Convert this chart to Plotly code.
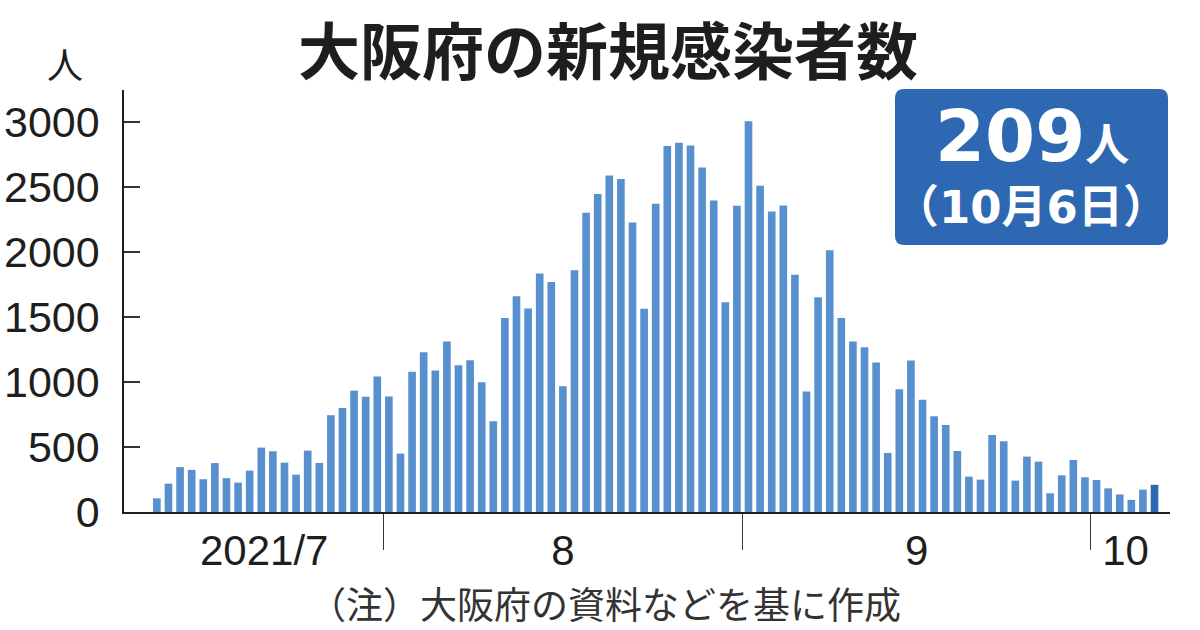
import pandas as pd
import plotly.graph_objects as go

# ---- data ----
start_date = "2021-07-12"
cases = [
    105, 218, 345, 324, 252, 376, 260, 226, 318, 495,
    467, 379, 287, 472, 377, 744, 800, 933, 885, 1042,
    888, 449, 1079, 1228, 1087, 1310, 1128, 1167, 997, 697,
    1492, 1659, 1564, 1833, 1769, 967, 1859, 2300, 2444, 2587,
    2559, 2226, 1562, 2369, 2813, 2838, 2818, 2649, 2395, 1613,
    2354, 3004, 2508, 2310, 2356, 1823, 926, 1651, 2013, 1492,
    1310, 1267, 1149, 454, 944, 1164, 862, 736, 669, 469,
    272, 249, 592, 544, 241, 426, 387, 144, 282, 400,
    267, 246, 182, 135, 93, 172, 209,
]
dates = pd.date_range(start_date, periods=len(cases), freq="D")

month_boundaries = ["2021-07-31 12:00", "2021-08-31 12:00", "2021-09-30 12:00"]
month_label_pos = ["2021-07-21 06:00", "2021-08-16 00:00", "2021-09-15 12:00", "2021-10-03 12:00"]
month_labels = ["2021/7", "8", "9", "10"]
y_ticks = [0, 500, 1000, 1500, 2000, 2500, 3000]

title_text = "大阪府の新規感染者数"
latest_value_text = "209"
latest_date_text = "（10月6日）"
unit_text = "人"
note_text = "（注）大阪府の資料などを基に作成"

# ---- style ----
BAR = "#5890cf"
BAR_LAST = "#2c67b1"
BOX = "#2e68b2"
INK = "#1e1e1e"
NUM = "Liberation Sans, Arial, sans-serif"
CJK = "Noto Sans CJK JP, sans-serif"
BOXFONT = "DejaVu Sans, Noto Sans CJK JP, sans-serif"

PLOT_L, PLOT_T, PLOT_W, PLOT_H = 124, 90, 1046, 422


def px(xp):
    return (xp - PLOT_L) / PLOT_W


def py(yp):
    return (PLOT_T + PLOT_H - yp) / PLOT_H


colors = [BAR] * (len(cases) - 1) + [BAR_LAST]

x_range = [dates[0] - pd.Timedelta(hours=68), dates[-1] + pd.Timedelta(hours=32)]

fig = go.Figure()
fig.add_trace(go.Bar(x=dates, y=cases, marker=dict(color=colors, line=dict(width=0)),
                     hoverinfo="x+y", showlegend=False))
# invisible helper trace so the label axis is drawn
fig.add_trace(go.Scatter(x=dates, y=cases, mode="none", xaxis="x2", hoverinfo="skip",
                         showlegend=False))

fig.update_layout(
    width=1200, height=630,
    margin=dict(l=PLOT_L, r=1200 - PLOT_L - PLOT_W, t=PLOT_T, b=630 - PLOT_T - PLOT_H,
                autoexpand=False),
    paper_bgcolor="white", plot_bgcolor="white",
    bargap=0.34,
    xaxis=dict(type="date", range=x_range, showgrid=False, zeroline=False, automargin=False,
               showline=True, linecolor=INK, linewidth=1.5,
               tickmode="array", tickvals=month_boundaries, ticks="outside",
               ticklen=36, tickwidth=1.3, tickcolor="#333", showticklabels=False),
    xaxis2=dict(type="date", overlaying="x", anchor="y", side="bottom", range=x_range,
                showgrid=False, zeroline=False, showline=False, automargin=False,
                tickmode="array", tickvals=month_label_pos, ticktext=month_labels,
                ticks="", ticklabelstandoff=10,
                tickfont=dict(family=NUM, size=42, color=INK)),
    yaxis=dict(range=[0, 3244], showgrid=False, zeroline=False, automargin=False,
               showline=True, linecolor=INK, linewidth=1.5,
               tickmode="array", tickvals=y_ticks, ticks="inside", ticklen=16,
               tickwidth=1.5, tickcolor="#333", ticklabelstandoff=14,
               tickfont=dict(family=NUM, size=43, color=INK)),
)

# title
fig.add_annotation(xref="paper", yref="paper", x=px(608), y=py(1),
                   xanchor="center", yanchor="top", showarrow=False,
                   text=f"<b>{title_text}</b>", font=dict(family=CJK, size=62, color=INK))

# value box (rounded rectangle)
x0, x1 = px(895), px(1168)
y1, y0 = py(89), py(245)
rx, ry = 9 / PLOT_W, 9 / PLOT_H
path = (f"M {x0+rx},{y1} L {x1-rx},{y1} Q {x1},{y1} {x1},{y1-ry} "
        f"L {x1},{y0+ry} Q {x1},{y0} {x1-rx},{y0} L {x0+rx},{y0} "
        f"Q {x0},{y0} {x0},{y0+ry} L {x0},{y1-ry} Q {x0},{y1} {x0+rx},{y1} Z")
fig.add_shape(type="path", path=path, xref="paper", yref="paper",
              fillcolor=BOX, line=dict(width=0), layer="above")

fig.add_annotation(xref="paper", yref="paper", x=px(1032), y=py(136),
                   xanchor="center", yanchor="middle", showarrow=False,
                   text=f"<b>{latest_value_text}<span style='font-size:44px'>{unit_text}</span></b>",
                   font=dict(family=BOXFONT, size=72, color="white"))
fig.add_annotation(xref="paper", yref="paper", x=px(1031), y=py(207),
                   xanchor="center", yanchor="middle", showarrow=False,
                   text=f"<b>{latest_date_text}</b>",
                   font=dict(family=BOXFONT, size=45, color="white"))

# unit label
fig.add_annotation(xref="paper", yref="paper", x=px(65), y=py(63),
                   xanchor="center", yanchor="middle", showarrow=False,
                   text=unit_text, font=dict(family=CJK, size=36, color=INK))

# note
fig.add_annotation(xref="paper", yref="paper", x=px(605), y=py(603),
                   xanchor="center", yanchor="middle", showarrow=False,
                   text=note_text, font=dict(family=CJK, size=37, color="#333"))

fig.write_html("out.html", config={"displayModeBar": False},
               post_script="document.body.style.margin='0';")
